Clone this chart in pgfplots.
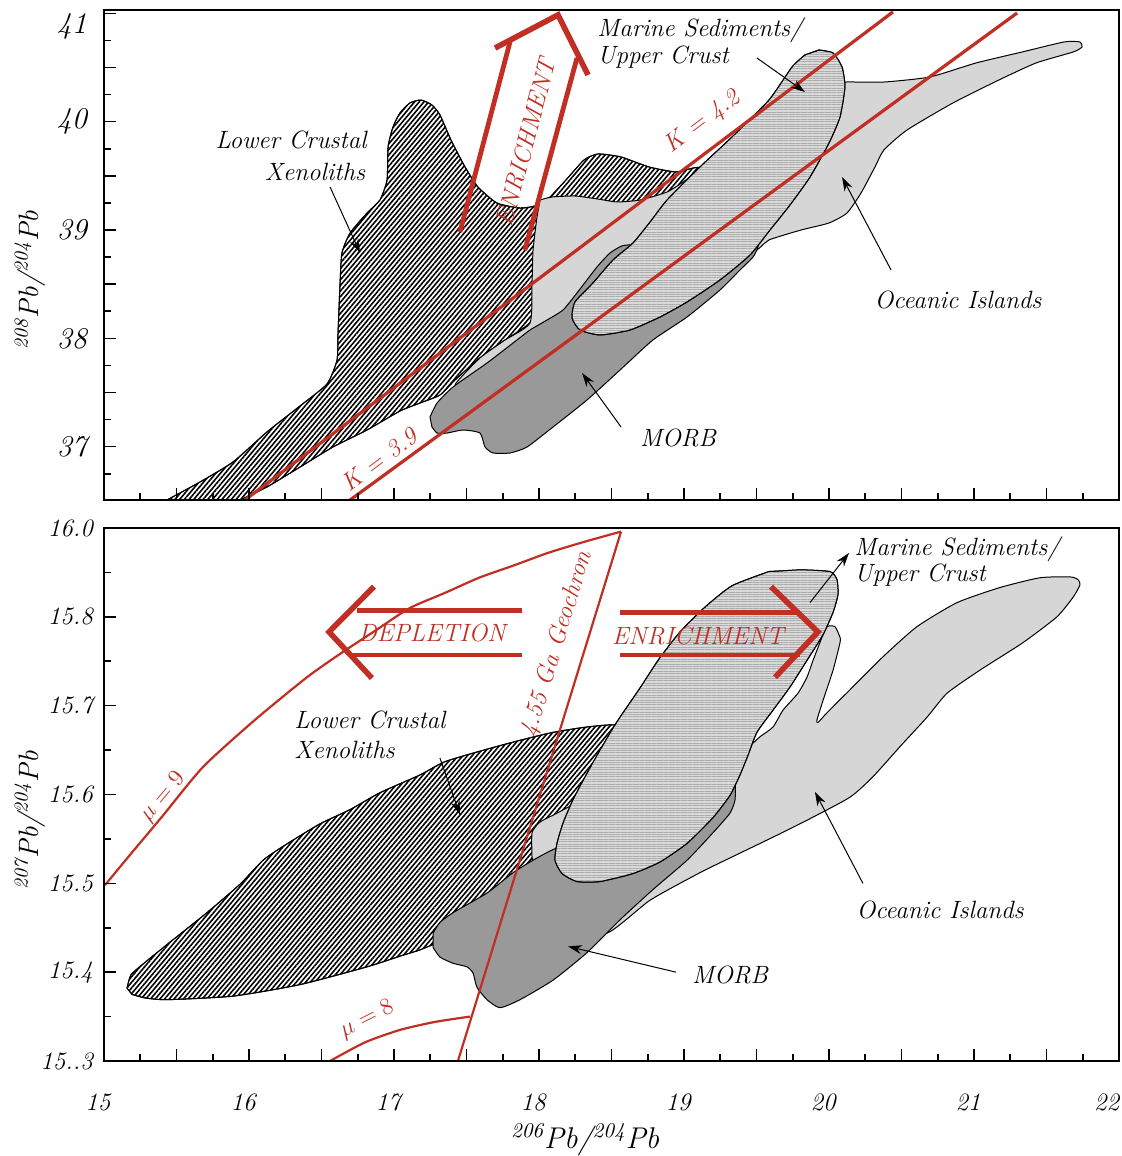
\documentclass[border=0pt]{standalone}
\usepackage{pgfplots}
\pgfplotsset{compat=1.18}
\usetikzlibrary{patterns.meta,arrows.meta}
\definecolor{geored}{RGB}{192,46,36}
\definecolor{oigray}{RGB}{214,214,214}
\definecolor{morbgray}{RGB}{153,153,153}
\definecolor{msgray}{RGB}{218,218,218}
\newcommand{\pbr}[2]{\textsuperscript{#1}\textit{Pb}/\textsuperscript{#2}\textit{Pb}}
\newcommand{\lbl}{\itshape\fontsize{12.5}{14}\selectfont}
\tikzset{txt/.style={font=\lbl, inner sep=1pt}}
\pgfplotsset{
 geo/.style={scale only axis, width=507.5pt, xmin=15, xmax=22, no markers, axis on top,
  axis line style={line width=1pt}, tick align=inside, xtick pos=left, ytick pos=left,
  major tick length=6pt, minor tick length=3.5pt,
  tick style={black, line width=0.8pt},
  xtick={15,15.5,...,22}, minor xtick={15.25,15.75,...,21.75},
  clip=true},
 geoshape/.style={draw=black, line width=0.5pt, line join=round, smooth, tension=0.35},
 lcx/.style={geoshape, preaction={fill=white}, pattern={Lines[angle=50,distance=1.8pt,line width=0.8pt]}},
 oi/.style={geoshape, fill=oigray},
 morb/.style={geoshape, fill=morbgray},
 ms/.style={geoshape, preaction={fill=msgray}, pattern={Lines[angle=0,distance=1.2pt,line width=0.3pt]}, pattern color=gray!65},
 arr/.style={black, line width=0.5pt, -{Stealth[length=7pt,width=4.5pt]}},
 redk/.style={geored, line width=1.6pt},
 redbig/.style={geored, line width=2.4pt},
 redthin/.style={geored, line width=1.1pt},
}
\begin{document}
\begin{tikzpicture}
\useasboundingbox (-52pt,-47.5pt) rectangle (509pt,530.5pt);
% ---------------- TOP PANEL ----------------
\begin{axis}[geo, at={(0pt,280.5pt)}, anchor=south west, height=245pt,
  ymin=36.508, ymax=41.031,
  xticklabels={},
  ytick={37,37.5,...,41}, yticklabels={37,,38,,39,,40,,\raisebox{-10pt}[0pt][0pt]{41}},
  minor ytick={36.75,37.25,...,40.75},
  yticklabel style={font=\itshape\fontsize{15}{15}\selectfont, xshift=-5pt},
  ylabel={\pbr{208}{204}},
  ylabel style={at={(axis description cs:-0.073,0.449)}, anchor=center, font=\itshape\fontsize{14}{14}\selectfont}]
% Lower crustal xenoliths
\addplot[lcx] coordinates {(15.434,36.508) (15.662,36.674) (15.890,36.859) (16.124,37.136) (16.352,37.376) (16.538,37.579) (16.607,37.800) (16.614,38.049) (16.628,38.511) (16.641,38.788) (16.697,38.972) (16.814,39.157) (16.903,39.277) (16.952,39.462) (16.959,39.766) (16.993,39.951) (17.041,40.080) (17.110,40.173) (17.186,40.200) (17.262,40.154) (17.317,40.062) (17.393,39.831) (17.490,39.582) (17.579,39.397) (17.710,39.249) (17.869,39.203) (17.972,39.222) (18.055,39.277) (18.186,39.462) (18.310,39.646) (18.407,39.702) (18.566,39.674) (18.759,39.582) (18.945,39.536) (19.110,39.572) (19.110,39.277) (18.421,38.723) (17.938,38.142) (17.766,37.985) (17.593,37.819) (17.421,37.616) (17.317,37.477) (17.179,37.403) (17.041,37.329) (16.814,37.154) (16.579,36.997) (16.352,36.812) (16.124,36.628) (15.938,36.508)} -- cycle;
% Oceanic islands
\addplot[oi] coordinates {(18.007,39.277) (18.090,39.305) (18.248,39.314) (18.407,39.286) (18.538,39.259) (18.697,39.277) (18.883,39.351) (19.014,39.462) (19.110,39.572) (19.524,40.016) (19.938,40.339) (20.110,40.366) (20.379,40.366) (20.697,40.413) (21.014,40.542) (21.331,40.643) (21.621,40.736) (21.731,40.736) (21.745,40.689) (21.683,40.643) (21.428,40.542) (21.172,40.385) (20.855,40.173) (20.538,39.923) (20.379,39.739) (20.317,39.582) (20.221,39.342) (20.124,39.157) (20.000,39.065) (19.807,39.000) (19.586,38.908) (19.503,38.816) (19.041,38.354) (18.421,37.708) (17.662,37.689) (17.421,37.569) (17.593,37.819) (17.766,37.985) (17.938,38.142) (17.952,38.511) (17.959,38.816) (17.986,39.120)} -- cycle;
% MORB
\addplot[morb] coordinates {(17.248,37.274) (17.297,37.403) (17.407,37.551) (17.641,37.772) (17.821,37.957) (17.938,38.077) (18.055,38.169) (18.166,38.262) (18.262,38.419) (18.400,38.659) (18.490,38.788) (18.572,38.853) (18.662,38.862) (18.972,38.816) (19.317,38.908) (19.503,38.926) (19.510,38.843) (19.476,38.751) (19.386,38.631) (19.248,38.446) (19.021,38.197) (18.786,37.985) (18.559,37.708) (18.331,37.431) (18.097,37.182) (17.917,36.997) (17.800,36.942) (17.683,36.942) (17.628,36.997) (17.593,37.126) (17.476,37.154) (17.366,37.126) (17.297,37.126) (17.262,37.182)} -- cycle;
% Marine sediments / upper crust
\addplot[ms] coordinates {(19.931,40.662) (20.028,40.634) (20.090,40.505) (20.110,40.320) (20.076,40.043) (20.000,39.803) (19.869,39.489) (19.731,39.231) (19.593,39.000) (19.455,38.769) (19.248,38.539) (19.021,38.336) (18.834,38.197) (18.628,38.077) (18.421,38.031) (18.283,38.077) (18.228,38.188) (18.248,38.336) (18.372,38.511) (18.510,38.723) (18.648,38.880) (18.766,39.074) (18.883,39.277) (19.110,39.582) (19.331,39.859) (19.586,40.200) (19.745,40.505) (19.834,40.616)} -- cycle;
% kappa lines
\addplot[redk] coordinates {(15.972,36.508) (20.441,41.013)};
\addplot[redk] coordinates {(16.697,36.508) (21.297,41.003)};
% enrichment arrow
\addplot[redbig] coordinates {(17.455,38.982) (17.800,40.736)};
\addplot[redbig] coordinates {(17.903,38.816) (18.262,40.588)};
\addplot[redbig, line width=2.8pt, line join=miter] coordinates {(17.697,40.680) (18.131,40.985) (18.338,40.431)};
\node[txt, text=geored, rotate=75] at (axis cs:17.910,39.813) {ENRICHMENT};
\node[txt, text=geored, rotate=37] at (axis cs:19.131,39.997) {K = 4.2};
\node[txt, text=geored, rotate=37] at (axis cs:16.897,36.877) {K = 3.9};
% labels and pointers
\node[txt, anchor=west] at (axis cs:18.386,40.846) {Marine Sediments/};
\node[txt, anchor=west] at (axis cs:18.386,40.597) {Upper Crust};
\addplot[arr] coordinates {(19.503,40.588) (19.834,40.274)};
\node[txt] at (axis cs:16.290,39.831) {Lower Crustal};
\node[txt] at (axis cs:16.455,39.536) {Xenoliths};
\addplot[arr] coordinates {(16.559,39.397) (16.766,38.788)};
\node[txt] at (axis cs:20.890,38.354) {Oceanic Islands};
\addplot[arr] coordinates {(20.428,38.631) (20.090,39.489)};
\node[txt] at (axis cs:18.959,37.080) {MORB};
\addplot[arr] coordinates {(18.566,37.182) (18.297,37.680)};
\end{axis}
% ---------------- BOTTOM PANEL ----------------
\begin{axis}[geo, at={(0pt,0pt)}, anchor=south west, height=266.5pt,
  ymin=15.3, ymax=15.9,
  xticklabels={15,,16,,17,,18,,19,,20,,21,,\makebox[0pt][r]{22\kern-3pt}},
  xticklabel style={font=\itshape\fontsize{12.5}{12.5}\selectfont, yshift=-13pt, xshift=-3pt},
  ytick={15.3,15.4,15.5,15.6,15.7,15.8,15.9},
  yticklabels={15..3,15.4,15.5,15.6,15.7,15.8,16.0},
  minor ytick={15.35,15.45,15.55,15.65,15.75,15.85},
  yticklabel style={font=\itshape\fontsize{12.5}{12.5}\selectfont, xshift=-2pt},
  ylabel={\pbr{207}{204}},
  ylabel style={at={(axis description cs:-0.073,0.452)}, anchor=center, font=\itshape\fontsize{14}{14}\selectfont},
  xlabel={\pbr{206}{204}},
  xlabel style={at={(axis description cs:0.474,-0.148)}, anchor=center, font=\itshape\fontsize{15}{15}\selectfont}]
% Lower crustal xenoliths
\addplot[lcx] coordinates {(15.159,15.382) (15.186,15.397) (15.283,15.411) (15.434,15.431) (15.710,15.467) (15.938,15.499) (16.097,15.526) (16.248,15.543) (16.490,15.567) (16.697,15.583) (16.903,15.602) (17.179,15.622) (17.352,15.637) (17.641,15.651) (17.869,15.661) (18.097,15.670) (18.331,15.676) (18.538,15.678) (18.628,15.661) (18.421,15.594) (18.145,15.554) (18.007,15.526) (17.731,15.459) (17.269,15.431) (17.179,15.425) (17.041,15.418) (16.814,15.406) (16.352,15.386) (15.890,15.373) (15.434,15.369) (15.283,15.371) (15.193,15.375)} -- cycle;
% Oceanic islands
\addplot[oi] coordinates {(17.952,15.529) (17.952,15.557) (18.007,15.569) (18.124,15.579) (18.421,15.605) (18.766,15.633) (19.110,15.652) (19.434,15.656) (19.476,15.658) (19.524,15.665) (19.614,15.676) (19.683,15.695) (19.786,15.714) (19.848,15.732) (19.890,15.751) (19.952,15.777) (19.986,15.789) (20.041,15.789) (20.076,15.777) (20.076,15.771) (20.028,15.740) (19.959,15.706) (19.917,15.684) (19.924,15.681) (19.986,15.692) (20.145,15.718) (20.372,15.755) (20.607,15.789) (20.883,15.816) (21.179,15.833) (21.455,15.844) (21.662,15.845) (21.717,15.842) (21.731,15.836) (21.683,15.822) (21.572,15.800) (21.338,15.771) (21.041,15.740) (20.814,15.714) (20.676,15.687) (20.490,15.654) (20.303,15.620) (20.145,15.597) (19.848,15.571) (19.614,15.552) (19.386,15.534) (19.110,15.512) (18.766,15.481) (18.469,15.444) (18.145,15.447)} -- cycle;
% MORB
\addplot[morb] coordinates {(17.269,15.444) (17.317,15.456) (17.407,15.467) (17.641,15.489) (17.821,15.512) (17.959,15.526) (18.097,15.538) (18.421,15.560) (18.766,15.588) (19.110,15.614) (19.283,15.625) (19.331,15.628) (19.352,15.616) (19.352,15.594) (19.317,15.579) (19.200,15.557) (19.021,15.526) (18.786,15.493) (18.559,15.459) (18.331,15.422) (18.097,15.391) (17.869,15.369) (17.731,15.360) (17.641,15.369) (17.572,15.383) (17.545,15.399) (17.503,15.406) (17.407,15.410) (17.317,15.417) (17.269,15.428)} -- cycle;
% Marine sediments / upper crust
\addplot[ms] coordinates {(19.807,15.853) (20.007,15.851) (20.055,15.842) (20.062,15.825) (20.028,15.805) (19.959,15.780) (19.848,15.751) (19.731,15.721) (19.614,15.695) (19.503,15.670) (19.441,15.644) (19.386,15.622) (19.317,15.599) (19.200,15.574) (19.021,15.545) (18.834,15.524) (18.648,15.511) (18.421,15.502) (18.262,15.502) (18.159,15.511) (18.110,15.526) (18.124,15.545) (18.166,15.568) (18.234,15.594) (18.331,15.624) (18.421,15.650) (18.538,15.682) (18.697,15.720) (18.821,15.751) (18.972,15.783) (19.145,15.811) (19.331,15.835) (19.586,15.851)} -- cycle;
% growth curves and geochron
\addplot[redthin, smooth, tension=0.4] coordinates {(15.007,15.498) (15.179,15.532) (15.400,15.575) (15.683,15.631) (16.041,15.684) (16.400,15.732) (16.634,15.759) (16.876,15.785) (17.110,15.810) (17.352,15.827) (17.586,15.844) (17.828,15.858) (18.062,15.872) (18.303,15.884) (18.566,15.896)};
\addplot[redthin] coordinates {(17.441,15.3) (18.566,15.896)};
\addplot[redthin, smooth, tension=0.4] coordinates {(16.559,15.3) (16.800,15.321) (17.041,15.335) (17.283,15.344) (17.524,15.350)};
\node[txt, text=geored, rotate=50] at (axis cs:15.407,15.597) {$\mu = 9$};
\node[txt, text=geored, rotate=27] at (axis cs:16.814,15.347) {$\mu = 8$};
\node[txt, text=geored, rotate=73] at (axis cs:18.125,15.769) {4.55 Ga Geochron};
% depletion arrow
\addplot[redbig] coordinates {(16.745,15.807) (17.883,15.807)};
\addplot[redbig] coordinates {(16.717,15.757) (17.883,15.757)};
\addplot[redbig, line width=2.8pt] coordinates {(16.862,15.834) (16.552,15.783) (16.848,15.731)};
\node[txt, text=geored] at (axis cs:17.262,15.782) {DEPLETION};
% enrichment arrow
\addplot[redbig] coordinates {(18.559,15.805) (19.800,15.805)};
\addplot[redbig] coordinates {(18.559,15.757) (19.800,15.757)};
\addplot[redbig, line width=2.8pt] coordinates {(19.600,15.834) (19.924,15.783) (19.628,15.732)};
\node[txt, text=geored] at (axis cs:19.097,15.778) {ENRICHMENT};
% labels and pointers
\node[txt, anchor=west] at (axis cs:20.159,15.876) {Marine Sediments/};
\node[txt, anchor=west] at (axis cs:20.159,15.847) {Upper Crust};
\addplot[arr] coordinates {(19.869,15.816) (20.138,15.872)};
\node[txt, anchor=west] at (axis cs:16.297,15.684) {Lower Crustal};
\node[txt, anchor=west] at (axis cs:16.297,15.650) {Xenoliths};
\addplot[arr] coordinates {(17.317,15.641) (17.455,15.577)};
\node[txt] at (axis cs:20.766,15.470) {Oceanic Islands};
\addplot[arr] coordinates {(20.234,15.500) (19.903,15.603)};
\node[txt] at (axis cs:19.317,15.397) {MORB};
\addplot[arr] coordinates {(18.945,15.400) (18.200,15.429)};
\end{axis}
\end{tikzpicture}
\end{document}
